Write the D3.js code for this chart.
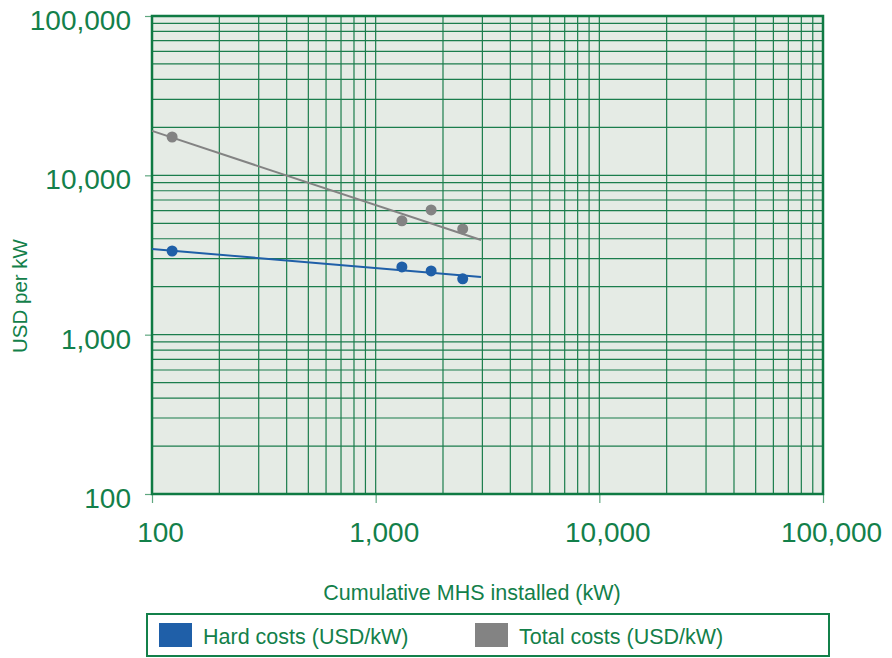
<!DOCTYPE html>
<html lang="en">
<head>
<meta charset="utf-8" />
<title>MHS costs</title>
<script src="https://cdn.jsdelivr.net/npm/d3@7"></script>
<style>
  body { margin: 0; background: #fff; }
  text { font-family: "Liberation Sans", Arial, sans-serif; fill: #13804a; }
</style>
</head>
<body>
<div id="chart"></div>
<script>
"use strict";

// data
let hardX = [123, 1310, 1770, 2450]
let hardY = [3350, 2660, 2510, 2240]
let totalX = [123, 1310, 1770, 2450]
let totalY = [17400, 5180, 6070, 4610]
// trend line end points
let trendX = [100, 2960]
let hardTrend = [3450, 2300]
let totalTrend = [19000, 3930]
let xTicks = [100, 1000, 10000, 100000]
let yTicks = [100, 1000, 10000, 100000]
let legendLabels = ["Hard costs (USD/kW)", "Total costs (USD/kW)"]

let width = 892, height = 658
let margin = {top: 16, right: 69, bottom: 164, left: 152}
let green = "#13804a", gridGreen = "#1b7d4c"
let blue = "#1f5fa8", gray = "#838383"

let svg = d3.select("#chart").append("svg")
  .attr("width", width).attr("height", height)

let x = d3.scaleLog().domain([100, 100000]).range([margin.left, width - margin.right])
let y = d3.scaleLog().domain([100, 100000]).range([height - margin.bottom, margin.top])

// background
svg.append("rect")
  .attr("x", x(100)).attr("y", y(100000))
  .attr("width", x(100000) - x(100)).attr("height", y(100) - y(100000))
  .attr("fill", "#e5ebe5")

// grid lines at every 1..9 x decade
let gridVals = []
for (let d = 100; d < 100000; d *= 10) for (let k = 1; k < 10; k++) gridVals.push(d * k)
gridVals.push(100000)

let grid = svg.append("g").attr("stroke", gridGreen).attr("stroke-width", 1.2)
grid.selectAll("line.v").data(gridVals).join("line").attr("class", "v")
  .attr("x1", d => x(d)).attr("x2", d => x(d))
  .attr("y1", y(100)).attr("y2", y(100000))
grid.selectAll("line.h").data(gridVals).join("line").attr("class", "h")
  .attr("y1", d => y(d)).attr("y2", d => y(d))
  .attr("x1", x(100)).attr("x2", x(100000))

// axes
let xAxis = svg.append("g")
  .attr("transform", `translate(0,${y(100)})`)
  .call(d3.axisBottom(x).tickValues(xTicks).tickSize(9).tickPadding(19)
    .tickFormat(d3.format(",")))
let yAxis = svg.append("g")
  .attr("transform", `translate(${x(100)},0)`)
  .call(d3.axisLeft(y).tickValues(yTicks).tickSize(7).tickPadding(14)
    .tickFormat(d3.format(",")))

;[xAxis, yAxis].forEach(a => {
  a.select(".domain").remove()
  a.selectAll(".tick line").attr("stroke", "#5fa77f").attr("stroke-width", 1.2)
  a.selectAll(".tick text").attr("font-size", 28).attr("fill", green)
    .attr("font-family", "Liberation Sans, Arial, sans-serif")
})
yAxis.selectAll(".tick text").attr("dy", "0.48em")
xAxis.selectAll(".tick text").attr("dx", 8)

// plot border
svg.append("rect")
  .attr("x", x(100)).attr("y", y(100000))
  .attr("width", x(100000) - x(100)).attr("height", y(100) - y(100000))
  .attr("fill", "none").attr("stroke", "#0f7a43").attr("stroke-width", 2.5)

// trend lines
let line = d3.line().x(d => x(d[0])).y(d => y(d[1]))
svg.append("path").datum(d3.zip(trendX, totalTrend))
  .attr("fill", "none").attr("stroke", gray).attr("stroke-width", 2).attr("d", line)
svg.append("path").datum(d3.zip(trendX, hardTrend))
  .attr("fill", "none").attr("stroke", blue).attr("stroke-width", 2).attr("d", line)

// points
svg.append("g").selectAll("circle").data(d3.zip(totalX, totalY)).join("circle")
  .attr("cx", d => x(d[0])).attr("cy", d => y(d[1])).attr("r", 5.5).attr("fill", gray)
svg.append("g").selectAll("circle").data(d3.zip(hardX, hardY)).join("circle")
  .attr("cx", d => x(d[0])).attr("cy", d => y(d[1])).attr("r", 5.5).attr("fill", blue)

// axis titles
svg.append("text").attr("x", 472).attr("y", 600)
  .attr("text-anchor", "middle").attr("font-size", 21.5)
  .text("Cumulative MHS installed (kW)")
svg.append("text")
  .attr("transform", `translate(27,296) rotate(-90)`)
  .attr("text-anchor", "middle").attr("font-size", 20.5)
  .text("USD per kW")

// legend
let lg = svg.append("g")
lg.append("rect").attr("x", 147).attr("y", 614).attr("width", 682).attr("height", 42)
  .attr("fill", "#fff").attr("stroke", green).attr("stroke-width", 2)
let legX = [159, 475]
let legC = [blue, gray]
legendLabels.forEach((t, i) => {
  lg.append("rect").attr("x", legX[i]).attr("y", 623).attr("width", 33).attr("height", 24)
    .attr("fill", legC[i])
  lg.append("text").attr("x", legX[i] + 44).attr("y", 644)
    .attr("font-size", 21.5).text(t)
})
</script>
</body>
</html>
